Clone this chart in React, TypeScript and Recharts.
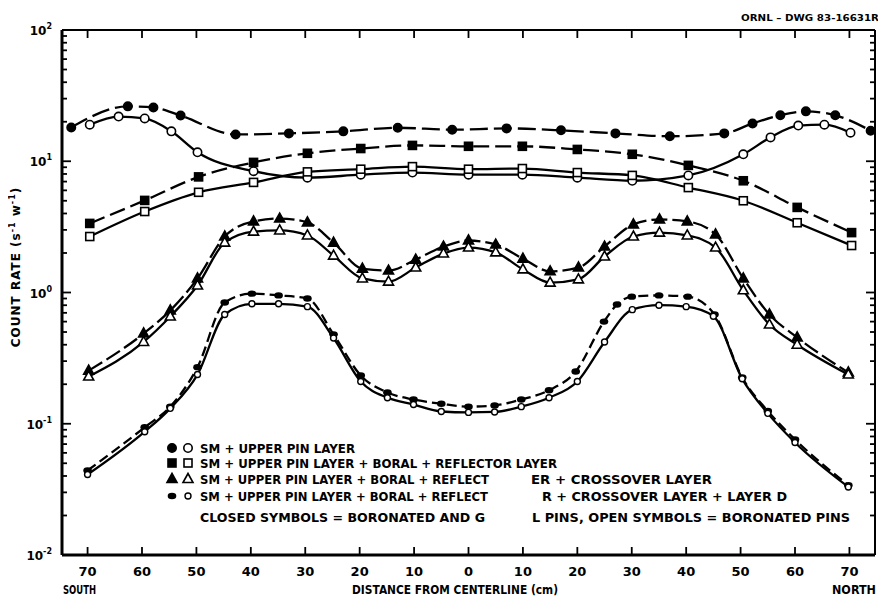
import React from 'react';
import { LineChart, Line, XAxis, YAxis } from 'recharts';

type Pt = { d: number; v: number };

// ---- tick values ----
const xTicks = [-70, -60, -50, -40, -30, -20, -10, 0, 10, 20, 30, 40, 50, 60, 70];
const decades = [0.01, 0.1, 1, 10];
const yTicks = [...decades.flatMap((dd) => [1, 2, 3, 4, 5, 6, 7, 8, 9].map((k) => +(dd * k).toPrecision(3))), 100];
const yExpLabels: Record<string, string> = { '0.01': '-2', '0.1': '-1', '1': '0', '10': '1', '100': '2' };

// ---- series (distance cm, south negative; count rate) ----
const smClosed: Pt[] = [
  { d: -73, v: 18.1 }, { d: -62.6, v: 26.2 }, { d: -57.9, v: 25.7 }, { d: -52.9, v: 22.3 },
  { d: -42.8, v: 16.0 }, { d: -33, v: 16.3 }, { d: -23, v: 16.9 }, { d: -13, v: 18.0 },
  { d: -3, v: 17.4 }, { d: 7, v: 17.8 }, { d: 17, v: 17.2 }, { d: 27, v: 16.3 },
  { d: 37, v: 15.5 }, { d: 47, v: 16.3 }, { d: 52.2, v: 19.4 }, { d: 57.3, v: 22.4 },
  { d: 62, v: 24.0 }, { d: 67.4, v: 22.4 }, { d: 73.9, v: 17.1 },
];
const smOpen: Pt[] = [
  { d: -69.6, v: 19.0 }, { d: -64.3, v: 21.9 }, { d: -59.5, v: 21.2 }, { d: -54.6, v: 16.9 },
  { d: -49.8, v: 11.7 }, { d: -39.5, v: 8.4 }, { d: -29.6, v: 7.5 }, { d: -19.8, v: 7.9 },
  { d: -10.3, v: 8.2 }, { d: 0, v: 7.9 }, { d: 9.9, v: 7.9 }, { d: 20, v: 7.5 },
  { d: 30.1, v: 7.1 }, { d: 40.4, v: 7.8 }, { d: 50.5, v: 11.3 }, { d: 55.5, v: 15.2 },
  { d: 60.6, v: 18.7 }, { d: 65.4, v: 19.0 }, { d: 70.2, v: 16.5 },
];
const reflClosed: Pt[] = [
  { d: -69.6, v: 3.36 }, { d: -59.5, v: 5.03 }, { d: -49.6, v: 7.6 }, { d: -39.5, v: 9.8 },
  { d: -29.6, v: 11.5 }, { d: -19.8, v: 12.5 }, { d: -10.3, v: 13.2 }, { d: 0, v: 13.0 },
  { d: 9.9, v: 13.0 }, { d: 20, v: 12.3 }, { d: 30.1, v: 11.3 }, { d: 40.4, v: 9.3 },
  { d: 50.5, v: 7.1 }, { d: 60.4, v: 4.45 }, { d: 70.4, v: 2.86 },
];
const reflOpen: Pt[] = [
  { d: -69.6, v: 2.67 }, { d: -59.5, v: 4.14 }, { d: -49.6, v: 5.8 }, { d: -39.5, v: 6.9 },
  { d: -29.6, v: 8.3 }, { d: -19.8, v: 8.7 }, { d: -10.3, v: 9.1 }, { d: 0, v: 8.7 },
  { d: 9.9, v: 8.8 }, { d: 20, v: 8.2 }, { d: 30.1, v: 7.8 }, { d: 40.4, v: 6.3 },
  { d: 50.5, v: 5.0 }, { d: 60.4, v: 3.4 }, { d: 70.4, v: 2.28 },
];
const crossClosed: Pt[] = [
  { d: -69.8, v: 0.254 }, { d: -59.7, v: 0.487 }, { d: -54.8, v: 0.73 }, { d: -49.8, v: 1.28 },
  { d: -44.8, v: 2.67 }, { d: -39.5, v: 3.48 }, { d: -34.7, v: 3.66 }, { d: -29.6, v: 3.42 },
  { d: -24.8, v: 2.4 }, { d: -19.5, v: 1.52 }, { d: -14.7, v: 1.47 }, { d: -9.7, v: 1.78 },
  { d: -4.6, v: 2.24 }, { d: 0, v: 2.49 }, { d: 5, v: 2.32 }, { d: 10, v: 1.81 },
  { d: 15, v: 1.45 }, { d: 20.2, v: 1.55 }, { d: 25, v: 2.24 }, { d: 30.3, v: 3.3 },
  { d: 35.1, v: 3.6 }, { d: 40.2, v: 3.48 }, { d: 45.4, v: 2.77 }, { d: 50.5, v: 1.28 },
  { d: 55.3, v: 0.68 }, { d: 60.4, v: 0.454 }, { d: 69.8, v: 0.246 },
];
const crossOpen: Pt[] = [
  { d: -69.8, v: 0.229 }, { d: -59.7, v: 0.42 }, { d: -54.8, v: 0.656 }, { d: -49.8, v: 1.13 },
  { d: -44.8, v: 2.4 }, { d: -39.5, v: 2.91 }, { d: -34.7, v: 2.97 }, { d: -29.6, v: 2.72 },
  { d: -24.8, v: 1.91 }, { d: -19.5, v: 1.28 }, { d: -14.7, v: 1.21 }, { d: -9.7, v: 1.55 },
  { d: -4.6, v: 1.98 }, { d: 0, v: 2.2 }, { d: 5, v: 2.02 }, { d: 10, v: 1.5 },
  { d: 15, v: 1.19 }, { d: 20.2, v: 1.26 }, { d: 25, v: 1.88 }, { d: 30.3, v: 2.67 },
  { d: 35.1, v: 2.86 }, { d: 40.2, v: 2.72 }, { d: 45.4, v: 2.2 }, { d: 50.5, v: 1.04 },
  { d: 55.3, v: 0.57 }, { d: 60.4, v: 0.4 }, { d: 69.8, v: 0.237 },
];
const layerDClosed: Pt[] = [
  { d: -70, v: 0.044 }, { d: -59.5, v: 0.094 }, { d: -54.8, v: 0.135 }, { d: -49.8, v: 0.27 },
  { d: -44.8, v: 0.84 }, { d: -39.8, v: 0.98 }, { d: -34.9, v: 0.95 }, { d: -29.6, v: 0.9 },
  { d: -24.8, v: 0.48 }, { d: -19.8, v: 0.233 }, { d: -14.9, v: 0.173 }, { d: -10.1, v: 0.153 },
  { d: -5, v: 0.142 }, { d: 0, v: 0.135 }, { d: 4.8, v: 0.138 }, { d: 9.7, v: 0.153 },
  { d: 14.8, v: 0.18 }, { d: 19.7, v: 0.25 }, { d: 24.9, v: 0.6 }, { d: 27.3, v: 0.81 },
  { d: 30, v: 0.93 }, { d: 35, v: 0.95 }, { d: 40.3, v: 0.93 }, { d: 45.2, v: 0.68 },
  { d: 50.3, v: 0.225 }, { d: 55, v: 0.125 }, { d: 60, v: 0.076 }, { d: 69.8, v: 0.034 },
];
const layerDOpen: Pt[] = [
  { d: -70, v: 0.041 }, { d: -59.5, v: 0.087 }, { d: -54.8, v: 0.131 }, { d: -49.8, v: 0.237 },
  { d: -44.8, v: 0.68 }, { d: -39.8, v: 0.82 }, { d: -34.9, v: 0.82 }, { d: -29.6, v: 0.78 },
  { d: -24.8, v: 0.45 }, { d: -19.8, v: 0.21 }, { d: -14.9, v: 0.158 }, { d: -10.1, v: 0.14 },
  { d: -5, v: 0.124 }, { d: 0, v: 0.122 }, { d: 4.8, v: 0.123 }, { d: 9.7, v: 0.135 },
  { d: 14.8, v: 0.158 }, { d: 20, v: 0.21 }, { d: 25, v: 0.42 }, { d: 30.1, v: 0.74 },
  { d: 35, v: 0.8 }, { d: 40, v: 0.78 }, { d: 45, v: 0.66 }, { d: 50.3, v: 0.22 },
  { d: 55, v: 0.12 }, { d: 60, v: 0.072 }, { d: 69.8, v: 0.033 },
];

const legendLines = [
  { shape: 'circle', parts: ['SM + UPPER PIN LAYER'] },
  { shape: 'square', parts: ['SM + UPPER PIN LAYER + BORAL + REFLECTOR LAYER'] },
  { shape: 'triangle', parts: ['SM + UPPER PIN LAYER + BORAL + REFLECT', 'ER + CROSSOVER LAYER'] },
  { shape: 'blob', parts: ['SM + UPPER PIN LAYER + BORAL + REFLECT', 'R + CROSSOVER LAYER + LAYER D'] },
];
const noteParts = ['CLOSED SYMBOLS = BORONATED AND G', 'L PINS, OPEN SYMBOLS = BORONATED PINS'];

const FONT = '"DejaVu Sans", sans-serif';

function Marker({ shape, filled, cx, cy }: { shape: string; filled: boolean; cx: number; cy: number }) {
  const fill = filled ? '#000' : '#fff';
  const sw = 1.6;
  if (cx == null || cy == null) return null;
  switch (shape) {
    case 'circle':
      return <circle cx={cx} cy={cy} r={4.2} fill={fill} stroke="#000" strokeWidth={sw} />;
    case 'square':
      return <rect x={cx - 4} y={cy - 4} width={8} height={8} fill={fill} stroke="#000" strokeWidth={sw} />;
    case 'triangle':
      return (
        <polygon
          points={`${cx},${cy - 5.5} ${cx - 5},${cy + 3.5} ${cx + 5},${cy + 3.5}`}
          fill={fill}
          stroke="#000"
          strokeWidth={sw}
        />
      );
    default:
      return filled ? (
        <ellipse cx={cx} cy={cy} rx={4.3} ry={3.2} fill="#000" />
      ) : (
        <circle cx={cx} cy={cy} r={3} fill="#fff" stroke="#000" strokeWidth={1.4} />
      );
  }
}

const dotOf = (shape: string, filled: boolean) => (props: any) => {
  const { cx, cy, index } = props;
  return (
    <g key={`m-${shape}-${filled}-${index}`}>
      <Marker shape={shape} filled={filled} cx={cx} cy={cy} />
    </g>
  );
};

const isMajor = (v: number) => Math.abs(Math.log10(v) - Math.round(Math.log10(v))) < 1e-6;

function LeftTick(props: any) {
  const { x, y, payload } = props;
  const v = payload.value as number;
  const major = isMajor(v);
  const exp = yExpLabels[String(v)];
  return (
    <g>
      <line x1={x} x2={x + (major ? 9 : 5)} y1={y} y2={y} stroke="#000" strokeWidth={1.8} />
      {major && exp !== undefined && (
        <text x={x - 10} y={y + 5} textAnchor="end" fontFamily={FONT} fontWeight="bold" fill="#000">
          <tspan fontSize={12}>10</tspan>
          <tspan fontSize={8} dy={-6}>{exp}</tspan>
        </text>
      )}
    </g>
  );
}

function RightTick(props: any) {
  const { x, y, payload } = props;
  const major = isMajor(payload.value as number);
  return <line x1={x} x2={x - (major ? 9 : 5)} y1={y} y2={y} stroke="#000" strokeWidth={1.8} />;
}

function BottomTick(props: any) {
  const { x, y, payload } = props;
  return (
    <g>
      <line x1={x} x2={x} y1={y} y2={y - 8} stroke="#000" strokeWidth={1.8} />
      <text x={x} y={y + 21} textAnchor="middle" fontFamily={FONT} fontWeight="bold" fontSize={13} fill="#000">
        {Math.abs(payload.value)}
      </text>
    </g>
  );
}

function TopTick(props: any) {
  const { x, y } = props;
  return <line x1={x} x2={x} y1={y} y2={y + 8} stroke="#000" strokeWidth={1.8} />;
}

const series: { data: Pt[]; shape: string; filled: boolean; dash?: string }[] = [
  { data: smClosed, shape: 'circle', filled: true, dash: '18 6' },
  { data: smOpen, shape: 'circle', filled: false },
  { data: reflClosed, shape: 'square', filled: true, dash: '16 6' },
  { data: reflOpen, shape: 'square', filled: false },
  { data: crossClosed, shape: 'triangle', filled: true, dash: '16 5' },
  { data: crossOpen, shape: 'triangle', filled: false },
  { data: layerDClosed, shape: 'blob', filled: true, dash: '10 5' },
  { data: layerDOpen, shape: 'blob', filled: false },
];

const xDomain: [number, number] = [-74.7, 74.7];
const yDomain: [number, number] = [0.01, 100];

export default function App() {
  const legendXs = [172, 188];
  const legendYs = [448, 463, 479, 496];
  const legendSegs = [
    [[200, 355]],
    [[200, 557]],
    [[200, 489], [531, 712]],
    [[200, 488], [542, 787]],
  ];
  return (
    <div style={{ position: 'relative', width: 878, height: 588, background: '#fff' }}>
      <LineChart width={878} height={588} margin={{ top: 12, right: 5, bottom: 0, left: 0 }}>
        <XAxis
          dataKey="d"
          type="number"
          domain={xDomain}
          ticks={xTicks}
          interval={0}
          tickSize={0}
          tickMargin={0}
          height={41}
          axisLine={{ stroke: '#000', strokeWidth: 3 }}
          tickLine={false}
          tick={<BottomTick />}
          allowDataOverflow
        />
        <XAxis
          xAxisId="top"
          orientation="top"
          dataKey="d"
          type="number"
          domain={xDomain}
          ticks={xTicks}
          interval={0}
          tickSize={0}
          tickMargin={0}
          height={10}
          axisLine={{ stroke: '#000', strokeWidth: 2 }}
          tickLine={false}
          tick={<TopTick />}
          allowDataOverflow
        />
        <YAxis
          type="number"
          scale="log"
          domain={yDomain}
          ticks={yTicks}
          interval={0}
          width={54}
          tickSize={0}
          tickMargin={0}
          axisLine={{ stroke: '#000', strokeWidth: 3 }}
          tickLine={false}
          tick={<LeftTick />}
          allowDataOverflow
        />
        <YAxis
          yAxisId="right"
          orientation="right"
          type="number"
          scale="log"
          domain={yDomain}
          ticks={yTicks}
          interval={0}
          width={6}
          tickSize={0}
          tickMargin={0}
          axisLine={{ stroke: '#000', strokeWidth: 2 }}
          tickLine={false}
          tick={<RightTick />}
          allowDataOverflow
        />
        {series.map((s, i) => (
          <Line
            key={i}
            data={s.data}
            dataKey="v"
            type="monotone"
            stroke="#000"
            strokeWidth={2.3}
            strokeDasharray={s.dash}
            dot={dotOf(s.shape, s.filled)}
            activeDot={false}
            isAnimationActive={false}
          />
        ))}
      </LineChart>
      <svg
        width={886}
        height={596}
        style={{ position: 'absolute', left: -8, top: -8, pointerEvents: 'none', overflow: 'visible' }}
      >
        <g fontFamily={FONT} fontWeight="bold" fill="#000">
          <text x={741} y={21} fontSize={9.5} textLength={138} lengthAdjust="spacingAndGlyphs">
            ORNL – DWG 83-16631R
          </text>
          <text
            transform="translate(20 267) rotate(-90)"
            textAnchor="middle"
            fontSize={12}
            letterSpacing={1}
          >
            COUNT RATE (s<tspan fontSize={8} dy={-5}>-1</tspan>
            <tspan dy={5}> w</tspan>
            <tspan fontSize={8} dy={-5}>-1</tspan>
            <tspan dy={5}>)</tspan>
          </text>
          <text x={63} y={594} fontSize={12} textLength={33} lengthAdjust="spacingAndGlyphs">SOUTH</text>
          <text x={832} y={594} fontSize={12} textLength={44} lengthAdjust="spacingAndGlyphs">NORTH</text>
          <text x={352} y={594} fontSize={12} textLength={206} lengthAdjust="spacingAndGlyphs">
            DISTANCE FROM CENTERLINE (cm)
          </text>
          {legendLines.map((ln, i) => (
            <g key={i}>
              <Marker shape={ln.shape} filled={true} cx={legendXs[0]} cy={legendYs[i]} />
              <Marker shape={ln.shape} filled={false} cx={legendXs[1]} cy={legendYs[i]} />
              {ln.parts.map((p, j) => (
                <text
                  key={j}
                  x={legendSegs[i][j][0]}
                  y={legendYs[i] + 5}
                  fontSize={13}
                  textLength={legendSegs[i][j][1] - legendSegs[i][j][0]}
                  lengthAdjust="spacingAndGlyphs"
                >
                  {p}
                </text>
              ))}
            </g>
          ))}
          <text x={200} y={522} fontSize={13} textLength={285} lengthAdjust="spacingAndGlyphs">
            {noteParts[0]}
          </text>
          <text x={532} y={522} fontSize={13} textLength={318} lengthAdjust="spacingAndGlyphs">
            {noteParts[1]}
          </text>
        </g>
      </svg>
    </div>
  );
}
